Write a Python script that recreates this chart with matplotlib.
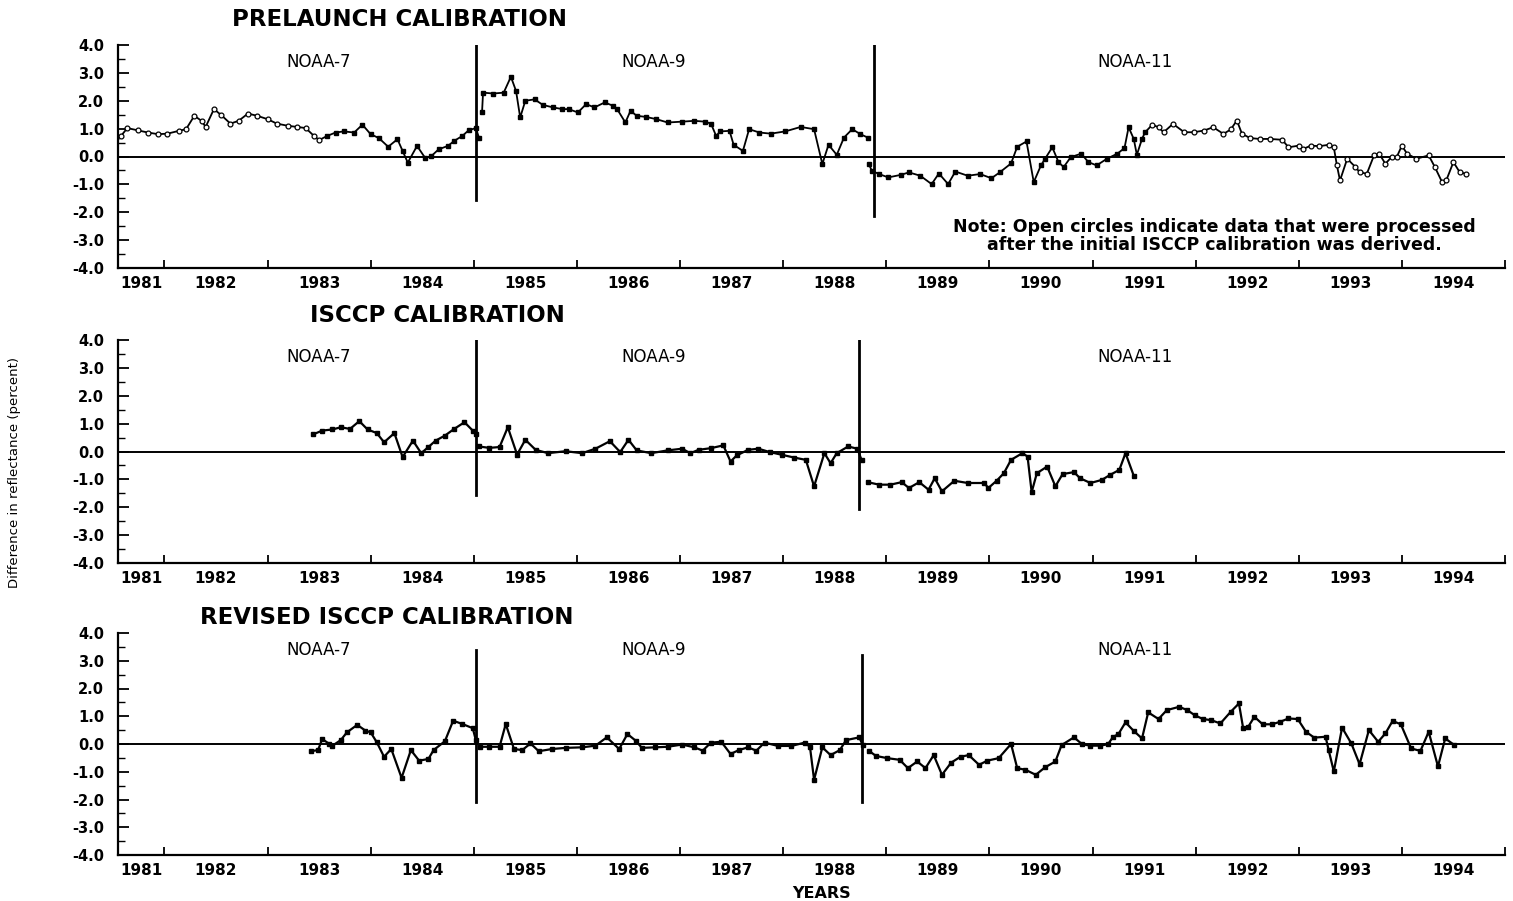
import numpy as np
import matplotlib.pyplot as plt
from matplotlib.ticker import FixedLocator, MultipleLocator, FixedFormatter

plt.rcParams['font.family'] = ['DejaVu Sans']
plt.rcParams['axes.unicode_minus'] = False

# ---- data (decimal year, % difference in reflectance) ----
# PRELAUNCH CALIBRATION
top_n7_x = [1981.53, 1981.58, 1981.64, 1981.74, 1981.84, 1981.94, 1982.03, 1982.14, 1982.21, 1982.29,
            1982.36, 1982.40, 1982.48, 1982.55, 1982.64, 1982.72, 1982.81, 1982.90, 1983.00, 1983.09,
            1983.20, 1983.29, 1983.37, 1983.45, 1983.50, 1983.58, 1983.66, 1983.74, 1983.84, 1983.92,
            1984.00, 1984.08, 1984.17, 1984.26, 1984.31, 1984.36, 1984.45, 1984.53, 1984.59, 1984.66,
            1984.75, 1984.81, 1984.89, 1984.95, 1985.02, 1985.05]
top_n7_y = [0.66, 0.74, 1.02, 0.94, 0.86, 0.80, 0.82, 0.92, 0.98, 1.46,
            1.28, 1.06, 1.70, 1.49, 1.18, 1.28, 1.54, 1.46, 1.34, 1.18,
            1.10, 1.06, 1.02, 0.74, 0.59, 0.74, 0.86, 0.90, 0.86, 1.14,
            0.80, 0.66, 0.35, 0.62, 0.20, -0.22, 0.38, -0.06, 0.02, 0.26,
            0.38, 0.56, 0.74, 0.94, 1.02, 0.68]
top_n9_x = [1985.08, 1985.09, 1985.19, 1985.29, 1985.36, 1985.41, 1985.45, 1985.50, 1985.59, 1985.67,
            1985.77, 1985.86, 1985.92, 1986.01, 1986.09, 1986.17, 1986.27, 1986.35, 1986.39, 1986.47,
            1986.52, 1986.58, 1986.67, 1986.77, 1986.88, 1987.02, 1987.14, 1987.24, 1987.30, 1987.35,
            1987.39, 1987.48, 1987.52, 1987.61, 1987.67, 1987.77, 1987.88, 1988.02, 1988.17, 1988.30,
            1988.38, 1988.44, 1988.52, 1988.59, 1988.67, 1988.75, 1988.82]
top_n9_y = [1.58, 2.29, 2.26, 2.29, 2.86, 2.35, 1.40, 2.00, 2.05, 1.85,
            1.76, 1.70, 1.70, 1.58, 1.88, 1.76, 1.94, 1.82, 1.70, 1.22,
            1.64, 1.46, 1.42, 1.34, 1.22, 1.25, 1.28, 1.25, 1.18, 0.74,
            0.90, 0.92, 0.42, 0.20, 0.98, 0.86, 0.82, 0.90, 1.06, 0.98,
            -0.27, 0.42, 0.06, 0.68, 0.98, 0.80, 0.68]
top_n11_x = [1988.83, 1988.86, 1988.93, 1989.02, 1989.14, 1989.22, 1989.33, 1989.44, 1989.51, 1989.60,
             1989.67, 1989.79, 1989.91, 1990.02, 1990.10, 1990.21, 1990.27, 1990.36, 1990.43, 1990.50,
             1990.54, 1990.61, 1990.67, 1990.72, 1990.79, 1990.89, 1990.96, 1991.04, 1991.14, 1991.24,
             1991.31, 1991.35, 1991.40, 1991.43, 1991.48, 1991.51, 1991.58, 1991.64, 1991.69, 1991.78,
             1991.89, 1991.98, 1992.08, 1992.17, 1992.27, 1992.34, 1992.40, 1992.45, 1992.53, 1992.62,
             1992.72, 1992.84, 1992.90, 1993.00, 1993.04, 1993.12, 1993.20, 1993.29, 1993.34, 1993.37,
             1993.40, 1993.47, 1993.55, 1993.59, 1993.66, 1993.73, 1993.78, 1993.84, 1993.90, 1993.95,
             1994.00, 1994.05, 1994.14, 1994.26, 1994.32, 1994.39, 1994.43, 1994.50, 1994.56, 1994.62]
top_n11_y = [-0.27, -0.51, -0.63, -0.75, -0.66, -0.57, -0.69, -0.99, -0.61, -0.99,
             -0.54, -0.69, -0.63, -0.78, -0.57, -0.25, 0.35, 0.54, -0.92, -0.32,
             -0.08, 0.33, -0.20, -0.38, -0.02, 0.10, -0.20, -0.32, -0.08, 0.10,
             0.30, 1.05, 0.63, 0.06, 0.63, 0.87, 1.14, 1.05, 0.87, 1.17,
             0.87, 0.87, 0.93, 1.05, 0.81, 0.97, 1.29, 0.81, 0.66, 0.63,
             0.63, 0.60, 0.33, 0.39, 0.27, 0.39, 0.37, 0.42, 0.33, -0.32,
             -0.86, -0.08, -0.38, -0.56, -0.62, 0.04, 0.10, -0.26, -0.02, -0.02,
             0.39, 0.10, -0.08, 0.04, -0.38, -0.92, -0.86, -0.20, -0.56, -0.62]

# ISCCP CALIBRATION
mid_n7_x = [1983.44, 1983.53, 1983.63, 1983.71, 1983.80, 1983.89, 1983.97, 1984.06, 1984.13, 1984.23,
            1984.31, 1984.41, 1984.49, 1984.56, 1984.63, 1984.72, 1984.81, 1984.91, 1984.99, 1985.02]
mid_n7_y = [0.61, 0.75, 0.79, 0.87, 0.81, 1.09, 0.79, 0.66, 0.33, 0.66,
            -0.20, 0.39, -0.06, 0.16, 0.39, 0.57, 0.81, 1.05, 0.75, 0.63]
mid_n9_x = [1985.05, 1985.15, 1985.25, 1985.33, 1985.42, 1985.50, 1985.60, 1985.72, 1985.89, 1986.05,
            1986.18, 1986.32, 1986.42, 1986.50, 1986.58, 1986.72, 1986.88, 1987.02, 1987.10, 1987.18,
            1987.30, 1987.42, 1987.49, 1987.55, 1987.66, 1987.76, 1987.87, 1987.99, 1988.11, 1988.22,
            1988.30, 1988.40, 1988.46, 1988.52, 1988.63, 1988.72, 1988.76]
mid_n9_y = [0.18, 0.13, 0.16, 0.87, -0.11, 0.42, 0.06, -0.06, 0.01, -0.06,
            0.10, 0.37, -0.02, 0.42, 0.04, -0.06, 0.04, 0.10, -0.06, 0.06,
            0.12, 0.22, -0.36, -0.14, 0.06, 0.10, -0.02, -0.12, -0.22, -0.30,
            -1.25, -0.06, -0.42, -0.06, 0.18, 0.10, -0.30]
mid_n11_x = [1988.82, 1988.93, 1989.04, 1989.15, 1989.22, 1989.32, 1989.41, 1989.47, 1989.54, 1989.66,
             1989.79, 1989.95, 1989.99, 1990.07, 1990.14, 1990.21, 1990.32, 1990.37, 1990.41, 1990.46,
             1990.56, 1990.64, 1990.71, 1990.82, 1990.88, 1990.98, 1991.09, 1991.17, 1991.26, 1991.32,
             1991.40]
mid_n11_y = [-1.10, -1.19, -1.19, -1.10, -1.31, -1.10, -1.37, -0.96, -1.43, -1.05,
             -1.13, -1.13, -1.31, -1.05, -0.78, -0.30, -0.06, -0.18, -1.46, -0.78,
             -0.54, -1.25, -0.81, -0.74, -0.96, -1.13, -1.02, -0.84, -0.66, -0.06,
             -0.87]

# REVISED ISCCP CALIBRATION
bot_n7_x = [1983.42, 1983.49, 1983.53, 1983.60, 1983.63, 1983.71, 1983.77, 1983.87, 1983.95, 1984.00,
            1984.06, 1984.13, 1984.20, 1984.30, 1984.39, 1984.47, 1984.56, 1984.61, 1984.72, 1984.80,
            1984.89, 1984.99, 1985.02]
bot_n7_y = [-0.26, -0.22, 0.18, 0.00, -0.06, 0.14, 0.42, 0.69, 0.48, 0.42,
            0.06, -0.46, -0.18, -1.22, -0.22, -0.60, -0.54, -0.22, 0.10, 0.84,
            0.72, 0.57, 0.14]
bot_n9_x = [1985.06, 1985.15, 1985.25, 1985.31, 1985.39, 1985.47, 1985.55, 1985.63, 1985.76, 1985.89,
            1986.05, 1986.18, 1986.29, 1986.41, 1986.49, 1986.57, 1986.63, 1986.76, 1986.88, 1987.02,
            1987.14, 1987.22, 1987.30, 1987.40, 1987.49, 1987.57, 1987.66, 1987.74, 1987.82, 1987.95,
            1988.08, 1988.21, 1988.26, 1988.30, 1988.38, 1988.46, 1988.55, 1988.61, 1988.74, 1988.77]
bot_n9_y = [-0.10, -0.10, -0.10, 0.72, -0.18, -0.22, 0.02, -0.26, -0.18, -0.14,
            -0.12, -0.06, 0.24, -0.18, 0.36, 0.12, -0.14, -0.12, -0.10, -0.02,
            -0.12, -0.24, 0.05, 0.08, -0.36, -0.22, -0.12, -0.24, 0.05, -0.07,
            -0.07, 0.05, -0.10, -1.29, -0.12, -0.40, -0.22, 0.14, 0.24, -0.04]
bot_n11_x = [1988.83, 1988.90, 1989.01, 1989.13, 1989.21, 1989.30, 1989.38, 1989.46, 1989.54, 1989.63,
             1989.72, 1989.80, 1989.90, 1989.98, 1990.09, 1990.21, 1990.27, 1990.35, 1990.45, 1990.54,
             1990.64, 1990.70, 1990.82, 1990.90, 1990.98, 1991.07, 1991.15, 1991.20, 1991.25, 1991.32,
             1991.40, 1991.48, 1991.54, 1991.64, 1991.72, 1991.84, 1991.92, 1991.99, 1992.07, 1992.15,
             1992.24, 1992.34, 1992.42, 1992.46, 1992.51, 1992.57, 1992.65, 1992.74, 1992.82, 1992.90,
             1992.99, 1993.07, 1993.15, 1993.26, 1993.29, 1993.34, 1993.42, 1993.51, 1993.59, 1993.68,
             1993.77, 1993.84, 1993.91, 1993.99, 1994.09, 1994.18, 1994.26, 1994.35, 1994.42, 1994.51]
bot_n11_y = [-0.24, -0.43, -0.51, -0.57, -0.87, -0.63, -0.87, -0.40, -1.11, -0.67,
             -0.46, -0.40, -0.75, -0.60, -0.51, 0.00, -0.87, -0.93, -1.11, -0.84,
             -0.63, -0.04, 0.24, -0.01, -0.06, -0.06, -0.01, 0.26, 0.35, 0.78,
             0.47, 0.20, 1.14, 0.90, 1.22, 1.34, 1.22, 1.04, 0.90, 0.86,
             0.74, 1.16, 1.46, 0.59, 0.62, 0.98, 0.71, 0.71, 0.80, 0.92,
             0.90, 0.44, 0.23, 0.26, -0.22, -0.99, 0.59, 0.02, -0.73, 0.50,
             0.08, 0.38, 0.83, 0.71, -0.16, -0.25, 0.44, -0.81, 0.20, -0.04]

titles = ['PRELAUNCH CALIBRATION', 'ISCCP CALIBRATION', 'REVISED ISCCP CALIBRATION']
satellites = ['NOAA-7', 'NOAA-9', 'NOAA-11']
years = list(range(1981, 1995))
open_before, open_after = 1983.5, 1991.55   # open circles in prelaunch panel

W, H = 1513, 901
fig = plt.figure(figsize=(W / 100, H / 100), dpi=100)

panels = [
    dict(top=45, bottom=268, title_x=232, title_y=19,
         series=[(top_n7_x, top_n7_y), (top_n9_x, top_n9_y), (top_n11_x, top_n11_y)],
         vlines=[(1985.02, -1.55, 4.0), (1988.88, -2.15, 4.0)]),
    dict(top=340, bottom=563, title_x=310, title_y=316,
         series=[(mid_n7_x, mid_n7_y), (mid_n9_x, mid_n9_y), (mid_n11_x, mid_n11_y)],
         vlines=[(1985.02, -1.55, 4.0), (1988.74, -2.05, 4.0)]),
    dict(top=633, bottom=855, title_x=200, title_y=617,
         series=[(bot_n7_x, bot_n7_y), (bot_n9_x, bot_n9_y), (bot_n11_x, bot_n11_y)],
         vlines=[(1985.02, -2.1, 3.4), (1988.76, -2.1, 3.2)]),
]

for i, p in enumerate(panels):
    ax = fig.add_axes([118 / W, 1 - p['bottom'] / H, (1505 - 118) / W, (p['bottom'] - p['top']) / H])
    ax.set_xlim(1981.55, 1995.0)
    ax.set_ylim(-4, 4)
    for s in ['top', 'right']:
        ax.spines[s].set_visible(False)
    for s in ['left', 'bottom']:
        ax.spines[s].set_linewidth(1.6)

    ax.yaxis.set_minor_locator(MultipleLocator(0.5))
    ax.set_yticks(np.arange(-4, 5, 1.0))
    ax.set_yticklabels(['%.1f' % v for v in np.arange(-4, 5, 1.0)], fontweight='bold', fontsize=10.5)
    ax.tick_params(axis='y', which='major', direction='in', length=8, width=1.3, pad=10)
    ax.tick_params(axis='y', which='minor', direction='in', length=5, width=1.0)

    ax.xaxis.set_major_locator(FixedLocator(range(1982, 1996)))
    ax.xaxis.set_major_formatter(FixedFormatter([''] * 14))
    lab_pos = [1981.78] + [y + 0.5 for y in years[1:]]
    ax.xaxis.set_minor_locator(FixedLocator(lab_pos))
    ax.xaxis.set_minor_formatter(FixedFormatter([str(y) for y in years]))
    ax.tick_params(axis='x', which='major', direction='in', length=6, width=1.3)
    ax.tick_params(axis='x', which='minor', length=0, pad=6, labelsize=11)
    for t in ax.get_xticklabels(minor=True):
        t.set_fontweight('bold')

    ax.axhline(0, color='black', lw=1.4)
    for xv, y0, y1 in p['vlines']:
        ax.plot([xv, xv], [y0, y1], color='black', lw=2.0)

    for (sx, sy) in p['series']:
        sx = np.array(sx)
        sy = np.array(sy)
        if i == 0:
            hollow = (sx <= open_before) | (sx >= open_after)
            ax.plot(sx, sy, color='black', lw=1.3)
            ax.plot(sx[~hollow], sy[~hollow], ls='none', marker='s', ms=3.5, color='black')
            ax.plot(sx[hollow], sy[hollow], ls='none', marker='o', ms=3.5,
                    mfc='white', mec='black', mew=0.9)
        else:
            ax.plot(sx, sy, color='black', lw=1.6, marker='s', ms=3.5)

    for name, xs in zip(satellites, [1983.50, 1986.74, 1991.41]):
        ax.text(xs, 3.4, name, ha='center', va='center', fontsize=12)

    fig.text(p['title_x'] / W, 1 - p['title_y'] / H, titles[i], ha='left', va='center',
             fontsize=16.5, fontweight='bold')

    if i == 0:
        ax.text(1992.18, -2.85, 'Note: Open circles indicate data that were processed\n'
                'after the initial ISCCP calibration was derived.',
                ha='center', va='center', fontsize=12.5, fontweight='bold', linespacing=0.95)

fig.text(15 / W, 1 - 472 / H, 'Difference in reflectance (percent)', rotation=90,
         ha='center', va='center', fontsize=9.5)
fig.text(822 / W, 1 - 893 / H, 'YEARS', ha='center', va='center', fontsize=11.5, fontweight='bold')

fig.savefig('out.png', dpi=100)
